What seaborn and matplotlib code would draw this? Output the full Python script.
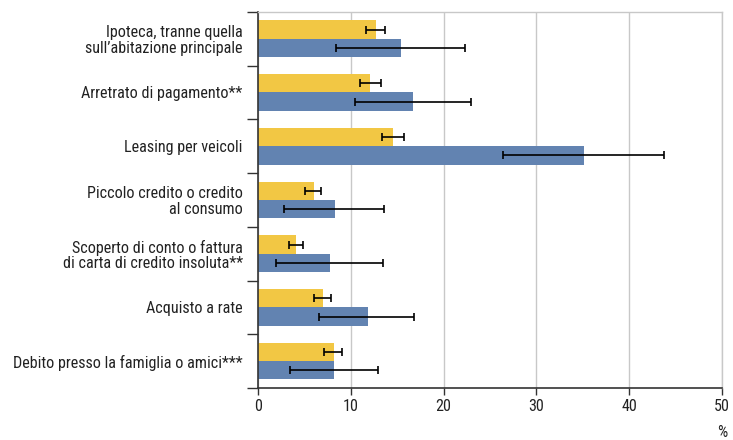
import pandas as pd
import seaborn as sns
import matplotlib.pyplot as plt
import matplotlib.font_manager as fm

# Categories (top to bottom)
categories = [
    "Ipoteca, tranne quella\nsull\u2019abitazione principale",
    "Arretrato di pagamento**",
    "Leasing per veicoli",
    "Piccolo credito o credito\nal consumo",
    "Scoperto di conto o fattura\ndi carta di credito insoluta**",
    "Acquisto a rate",
    "Debito presso la famiglia o amici***",
]
series_names = ["A", "B"]

# Yellow series (value, lower, upper)
yellow_vals = [12.7, 12.1, 14.5, 6.0, 4.1, 7.0, 8.2]
yellow_low = [11.6, 11.0, 13.4, 5.1, 3.3, 6.0, 7.1]
yellow_high = [13.7, 13.3, 15.7, 6.8, 4.8, 7.9, 9.1]

# Blue series (value, lower, upper)
blue_vals = [15.4, 16.7, 35.1, 8.3, 7.8, 11.8, 8.2]
blue_low = [8.4, 10.4, 26.4, 2.8, 1.9, 6.6, 3.4]
blue_high = [22.3, 22.9, 43.7, 13.6, 13.5, 16.8, 12.9]

x_ticks = [0, 10, 20, 30, 40, 50]

df = pd.DataFrame({
    "cat": categories * 2,
    "serie": [series_names[0]] * len(categories) + [series_names[1]] * len(categories),
    "val": yellow_vals + blue_vals,
})

sns.set_style("white")

# pick a condensed sans if one is around, else Roboto
installed = {f.name for f in fm.fontManager.ttflist}
narrow = ["Roboto Condensed", "Liberation Sans Narrow", "Archivo Narrow",
          "PT Sans Narrow", "Fira Sans Condensed", "IBM Plex Sans Condensed"]
chosen = [n for n in narrow if n in installed]
if chosen:
    plt.rcParams["font.family"] = [chosen[0], "DejaVu Sans"]
    fs = 11.6
else:
    plt.rcParams["font.family"] = ["Roboto", "DejaVu Sans"]
    fs = 10.5
plt.rcParams["text.color"] = "#222222"
plt.rcParams["xtick.color"] = "#222222"
plt.rcParams["ytick.color"] = "#222222"

fig = plt.figure(figsize=(7.33, 4.40), dpi=100)
ax = fig.add_axes([0.352, 0.118, 0.633, 0.855])

palette = {"A": "#f2c744", "B": "#6283b1"}
sns.barplot(data=df, y="cat", x="val", hue="serie", order=categories,
            hue_order=series_names, palette=palette, orient="h",
            width=0.68, errorbar=None, saturation=1, legend=False,
            linewidth=0, ax=ax)

# error bars
lows = [yellow_low, blue_low]
highs = [yellow_high, blue_high]
vals = [yellow_vals, blue_vals]
bar_conts = list(ax.containers)[:2]
for k, cont in enumerate(bar_conts):
    for i, bar in enumerate(cont.patches):
        yc = bar.get_y() + bar.get_height() / 2
        v = vals[k][i]
        ax.errorbar(v, yc, xerr=[[v - lows[k][i]], [highs[k][i] - v]],
                    fmt="none", ecolor="black", elinewidth=1.2,
                    capsize=3, capthick=1.2, zorder=5)

ax.set_xlim(0, 50)
ax.set_ylim(len(categories) - 0.5, -0.5)
ax.set_xticks(x_ticks)
ax.set_xticklabels([str(t) for t in x_ticks], fontsize=fs)
ax.set_xlabel("")
ax.set_ylabel("")

# category labels at centers, tick marks at group boundaries
ax.set_yticks([i - 0.5 for i in range(len(categories) + 1)])
ax.set_yticklabels([])
ax.set_yticks(range(len(categories)), minor=True)
ax.set_yticklabels(categories, minor=True, fontsize=fs, linespacing=1.05)
ax.tick_params(axis="y", which="minor", length=0, pad=11)
ax.tick_params(axis="y", which="major", length=8, width=1, color="#333333",
               direction="out", left=True)
ax.tick_params(axis="x", length=5, width=1, color="#333333",
               direction="out", bottom=True, pad=3)

ax.grid(axis="x", color="#c8c8c8", linewidth=1)
ax.set_axisbelow(True)
for side in ["left", "bottom"]:
    ax.spines[side].set_color("#333333")
    ax.spines[side].set_linewidth(1.2)
for side in ["top", "right"]:
    ax.spines[side].set_color("#c8c8c8")
    ax.spines[side].set_linewidth(1)

ax.annotate("%", xy=(1, 0), xycoords="axes fraction", xytext=(0, -44),
            textcoords="offset pixels", ha="center", va="center", fontsize=fs)

fig.savefig("out.png", dpi=100)
